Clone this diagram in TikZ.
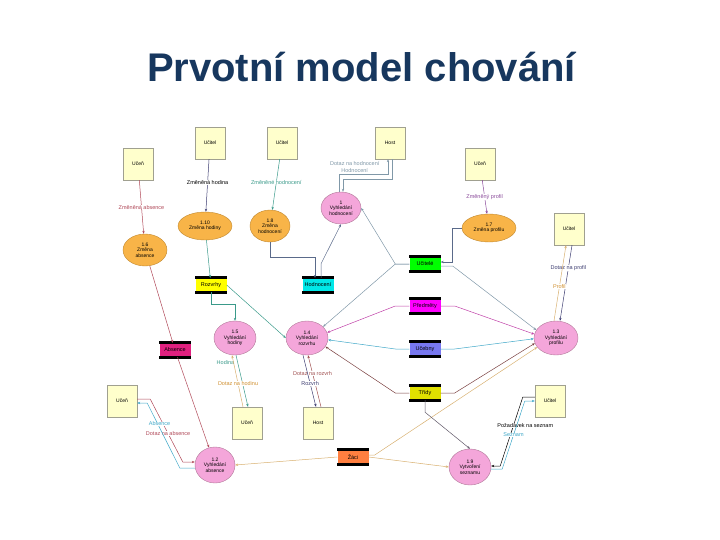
\documentclass[tikz,border=0pt]{standalone}
\usepackage{fontspec}
\setmainfont{Liberation Sans}
\usetikzlibrary{positioning}
\usetikzlibrary{shapes.geometric}
\usetikzlibrary{arrows.meta}

\definecolor{titleblue}{HTML}{17375E}
\definecolor{entityfill}{HTML}{FFFFCC}
\definecolor{entityline}{HTML}{A0A090}
\definecolor{changefill}{HTML}{F8B448}
\definecolor{changeline}{HTML}{C08830}
\definecolor{lookupfill}{HTML}{F4A6DA}
\definecolor{lookupline}{HTML}{B07898}
\definecolor{cRed}{HTML}{B04858}
\definecolor{cNavy}{HTML}{3C3C70}
\definecolor{cTeal}{HTML}{3A9A8A}
\definecolor{cGray}{HTML}{8098A8}
\definecolor{cSlate}{HTML}{5A6A8A}
\definecolor{cPurple}{HTML}{8A4A9A}
\definecolor{cMag}{HTML}{C040A8}
\definecolor{cBlue}{HTML}{40A8C8}
\definecolor{cBrown}{HTML}{7A4040}
\definecolor{cBrownR}{HTML}{A05050}
\definecolor{cDark}{HTML}{605868}
\definecolor{cTan}{HTML}{D8B070}
\definecolor{cOrange}{HTML}{D09030}
\definecolor{storeyellow}{HTML}{FFFF00}
\definecolor{storecyan}{HTML}{00E8E8}
\definecolor{storegreen}{HTML}{00FF00}
\definecolor{storemag}{HTML}{FF00FF}
\definecolor{storeblue}{HTML}{7878F0}
\definecolor{storeolive}{HTML}{E0E000}
\definecolor{storepink}{HTML}{E0207F}
\definecolor{storeorange}{HTML}{FF7F40}

\begin{document}
\begin{tikzpicture}[x=1pt,y=-1pt,>={Stealth[length=3pt,width=2.4pt]},
  node distance=40pt,on grid,font=\fontsize{5}{5.5}\selectfont,
  entity/.style={draw=entityline,fill=entityfill,minimum width=30pt,%
    minimum height=32pt,inner sep=0pt},
  change/.style={ellipse,draw=changeline,fill=changefill,inner sep=0pt,align=center},
  lookup/.style={ellipse,draw=lookupline,fill=lookupfill,inner sep=0pt,align=center},
  datastore/.style={fill=#1,minimum width=31pt,minimum height=14pt,inner sep=0pt,%
    font=\fontsize{5.5}{6}\selectfont},
  storebar/.style={line width=3pt},
  flow/.style={->,line width=0.5pt},
  lbl/.style={fill=white,inner sep=0.4pt,font=\fontsize{5.5}{6}\selectfont}]
  \useasboundingbox (0,0) rectangle (720,540);

  \node[anchor=base,text=titleblue,font=\fontsize{40}{46}\selectfont\bfseries]
    (title) at (361.5,82) {Prvotní model chování};

  % entities
  \node[entity] (ucen1)   at (138,164)                {Učeň};
  \node[entity] (ucitel1) at (210,143)                {Učitel};
  \node[entity] (ucitel2) [right=72pt of ucitel1]     {Učitel};
  \node[entity] (host1)   at (390,143)                {Host};
  \node[entity] (ucen2)   at (480,164)                {Učeň};
  \node[entity] (ucitel3) at (569,229)                {Učitel};
  \node[entity] (ucen3)   at (122,401)                {Učeň};
  \node[entity] (ucen4)   at (247,423)                {Učeň};
  \node[entity] (host2)   [right=71pt of ucen4]       {Host};
  \node[entity] (ucitel4) at (550,401)                {Učitel};

  % processes
  \node[change,minimum width=44pt,minimum height=32pt] (p16)  at (145,250) {1.6\\Změna\\absence};
  \node[change,minimum width=54pt,minimum height=28pt] (p110) at (205,226) {1.10\\Změna hodiny};
  \node[change,minimum width=40pt,minimum height=32pt] (p18)  at (270,226) {1.8\\Změna\\hodnocení};
  \node[lookup,minimum width=40pt,minimum height=32pt] (p1)   at (341,208) {1\\Vyhledání\\hodnocení};
  \node[change,minimum width=54pt,minimum height=28pt] (p17)  at (489,228) {1.7\\Změna profilu};
  \node[lookup,minimum width=42pt,minimum height=34pt] (p15)  at (235,338) {1.5\\Vyhledání\\hodiny};
  \node[lookup,minimum width=42pt,minimum height=34pt] (p14)  [right=72pt of p15] {1.4\\Vyhledání\\rozvrhu};
  \node[lookup,minimum width=44pt,minimum height=34pt] (p13)  at (556,338) {1.3\\Vyhledání\\profilu};
  \node[lookup,minimum width=40pt,minimum height=36pt] (p12)  at (215,465) {1.2\\Vyhledání\\absence};
  \node[lookup,minimum width=42pt,minimum height=36pt] (p19)  at (470,467) {1.9\\Vytvoření\\seznamu};

  % data stores
  \node[datastore=storeyellow] (rozvrhy)   at (211,285)              {Rozvrhy};
  \node[datastore=storecyan]   (hodnoceni) [right=107pt of rozvrhy]  {Hodnocení};
  \node[datastore=storegreen]  (ucitele)   at (425,264)              {Učitelé};
  \node[datastore=storemag]    (predmety)  [below=42pt of ucitele]   {Předměty};
  \node[datastore=storeblue]   (ucebny)    [below=43pt of predmety]  {Učebny};
  \node[datastore=storeolive]  (tridy)     [below=44pt of ucebny]    {Třídy};
  \node[datastore=storepink]   (absence)   at (175,350)              {Absence};
  \node[datastore=storeorange] (zaci)      at (353,457)              {Žáci};
  \foreach \s in {rozvrhy,hodnoceni,ucitele,predmety,ucebny,tridy,absence,zaci}
    \draw[storebar] (\s.north west) -- (\s.north east) (\s.south west) -- (\s.south east);

  % changes
  \draw[flow,cRed]    (ucen1)   -- node[lbl,text=cRed] {Změněná absence} (p16);
  \draw[flow,cNavy]   (ucitel1) -- node[lbl,text=black,pos=0.45] {Změněná hodina} (p110);
  \draw[flow,cTeal]   (ucitel2) -- node[lbl,text=cTeal,pos=0.45] {Změněné hodnocení} (p18);
  \draw[flow,cPurple] (ucen2)   -- node[lbl,text=cPurple] {Změněný profil} (p17);
  \draw[flow,cRed]    (p16) -- (absence);
  \draw[flow,cRed]    (absence) -- (p12);
  \draw[flow,cTeal]   (p110) -- (rozvrhy);
  \draw[flow,cSlate]  (p18.south) -- ++(0,15) -| ([xshift=-3pt]hodnoceni.north);
  \draw[flow,cSlate]  (p17.west) -- ++(-10,0) |- ([yshift=2pt]ucitele.east);

  % hodnoceni
  \draw[flow,cGray] ([xshift=2pt]host1.south) -- ++(0,20)
    -| node[lbl,text=cGray,pos=0.38,above=13pt] {Dotaz na hodnocení} ([xshift=2pt]p1.north);
  \draw[flow,cGray] ([xshift=-2pt]p1.north) -- ++(0,-18)
    -| node[lbl,text=cGray,pos=0.16,above=1pt] {Hodnocení} ([xshift=-2pt]host1.south);
  \draw[flow,cSlate] ([xshift=3pt]hodnoceni.north) -- ++(0,-14) -- (p1.south);
  \draw[flow,cGray]  (ucitele.west) -- ++(-14,0) -- (p1.east);

  % rozvrh and hodina
  \draw[flow,cTeal] (rozvrhy.south) -- ++(0,12) -| (p15.north);
  \draw[flow,cTeal] (rozvrhy.east) -- (p14.west);
  \draw[flow,cGray] (ucitele.west) -- ++(-14,0) -- (p14.35);
  \draw[flow,cMag]   (predmety.west) -- ++(-14,0) -- (p14.15);
  \draw[flow,cBlue]  (ucebny.west) -- ++(-14,0) -- (p14.-5);
  \draw[flow,cBrown] (tridy.west) -- ++(-14,0) -- (p14.-25);
  \draw[flow,cBrownR] ([xshift=3pt]host2.north)
    -- node[lbl,text=cBrownR,pos=0.65] {Dotaz na rozvrh} ([xshift=1pt]p14.south);
  \draw[flow,cNavy] ([xshift=-4pt]p14.south)
    -- node[lbl,text=cNavy,pos=0.55] {Rozvrh} ([xshift=-2pt]host2.north);
  \draw[flow,cTeal] ([xshift=1pt]p15.south)
    -- node[lbl,text=cTeal,pos=0.15,left=3pt] {Hodina} ([xshift=1pt]ucen4.north);
  \draw[flow,cTan] ([xshift=-4pt]ucen4.north)
    -- node[lbl,text=cOrange,pos=0.45] {Dotaz na hodinu} ([xshift=-3pt]p15.south);

  % profil
  \draw[flow,cGray]  ([yshift=-2pt]ucitele.east) -- ++(12,0) -- (p13.158);
  \draw[flow,cMag]   (predmety.east) -- ++(14,0) -- (p13.170);
  \draw[flow,cBlue]  (ucebny.east) -- ++(14,0) -- (p13.182);
  \draw[flow,cBrown] (tridy.east) -- ++(14,0) -- (p13.194);
  \draw[flow,cTan]   ([yshift=2pt]zaci.east) -- ++(6,0) -- (p13.206);
  \draw[flow,cNavy] ([xshift=3pt]ucitel3.south)
    -- node[lbl,text=cNavy,pos=0.3] {Dotaz na profil} ([xshift=4pt]p13.north);
  \draw[flow,cTan] ([xshift=-2pt]p13.north)
    -- node[lbl,text=cOrange,pos=0.45] {Profil} ([xshift=-3pt]ucitel3.south);

  % absence
  \draw[flow,cRed] ([yshift=2pt]ucen3.east) -- ++(13,0)
    -- node[lbl,text=cRed,pos=0.55] {Dotaz na absence} ([xshift=-12pt,yshift=3pt]p12.west)
    -- ([yshift=3pt]p12.west);
  \draw[flow,cBlue] ([yshift=-3pt]p12.west) -- ++(-15,0)
    -- node[lbl,text=cBlue,pos=0.62,above=1pt] {Absence} ([xshift=10pt,yshift=-2pt]ucen3.east)
    -- ([yshift=-2pt]ucen3.east);
  \draw[flow,cTan] (zaci.west) -- (p12.east);

  % seznam
  \draw[flow,cDark] (tridy.south) -- ++(0,12) -- (p19.north);
  \draw[flow,cTan]  (zaci.east) -- (p19.west);
  \draw[flow,black] ([yshift=4pt]ucitel4.west) -- ++(-12,0)
    -- node[lbl,text=black,pos=0.42,xshift=12pt] {Požadavek na seznam} ([xshift=9pt,yshift=1pt]p19.east)
    -- ([yshift=1pt]p19.east);
  \draw[flow,cBlue] ([yshift=-2pt]p19.east) -- ++(11,0)
    -- node[lbl,text=cBlue,pos=0.5] {Seznam} ([xshift=-10pt]ucitel4.west)
    -- (ucitel4.west);
\end{tikzpicture}
\end{document}
